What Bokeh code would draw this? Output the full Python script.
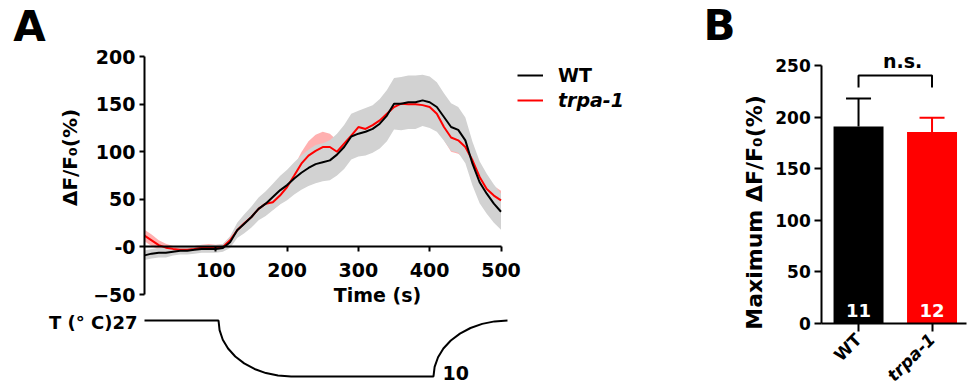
from math import pi
from bokeh.plotting import figure
from bokeh.models import (Range1d, LinearAxis, FixedTicker, Label, Legend, LegendItem,
                          ColumnDataSource, Whisker, TeeHead)
from bokeh.layouts import row
from bokeh.embed import file_html
from bokeh.resources import INLINE

FONT = "DejaVu Sans"

# ---------------- Panel A data ----------------
time_s = list(range(0, 501, 10))
wt_mean = [-8.8, -7, -6, -6, -5, -4, -4, -3, -2, -2,
           -2, -1, 5, 17.5, 24.5, 31.5, 40, 45.5, 52.5, 59.5,
           65, 72, 78, 83, 87, 89, 91, 97, 105, 116,
           119, 121, 124, 129.5, 138, 150.5, 150.5, 152, 152, 154,
           152, 147, 136.5, 126, 123, 112, 87.5, 68, 56, 45.5,
           37]
wt_sem = [5, 5, 5, 5, 4, 4, 4, 4, 4, 4,
          4, 4, 6, 8, 10, 11, 12, 13, 14, 15,
          16, 17, 18, 19, 20, 20, 21, 22, 23, 24,
          24, 25, 25, 26, 27, 27, 28, 28, 28, 27,
          27, 26, 25, 25, 24, 24, 23, 22, 21, 20,
          19]
trpa_mean = [12, 7, 2, -0.7, -2, -3, -3, -2, -0.7, 0,
             -0.7, 0, 7, 17.5, 25, 31.5, 40, 45.5, 47, 54,
             63, 75, 87.5, 96, 101, 105, 105, 100, 108.5, 117,
             126, 124, 128, 133, 140, 147, 150.5, 150, 150, 149,
             147, 140, 126, 115, 112, 105, 91, 73.5, 61, 54,
             49]
trpa_sem = [6, 6, 5, 4, 3, 3, 3, 3, 3, 3,
            3, 3, 4, 5, 6, 7, 7, 8, 8, 9,
            9, 10, 12, 15, 17, 16, 14, 12, 10, 10,
            10, 10, 10, 10, 10, 10, 10, 10, 10, 10,
            11, 12, 14, 15, 14, 12, 11, 10, 10, 10,
            10]
temp_time = [0, 103.8, 105.3, 109.8, 117.2, 127.3, 139.8, 154.3, 170.3, 187.2, 205.6,
             405.3, 406.9, 411.7, 419.2, 429.6, 442.4, 457.2, 473.6, 491.0, 509.1]
temp_c = [27, 27, 24.06, 21.17, 18.5, 16.07, 13.98, 12.28, 11.03, 10.29, 10,
          10, 12.94, 15.83, 18.5, 20.93, 23.02, 24.72, 25.97, 26.73, 27]
y_ticks_a = [-50, 0, 50, 100, 150, 200]
x_ticks_a = [100, 200, 300, 400, 500]

# ---------------- Panel B data ----------------
groups = ["WT", "trpa-1"]
max_mean = [191, 185.5]
max_sem = [27, 14]
n_cells = [11, 12]
bar_colors = ["black", "red"]
y_ticks_b = [0, 50, 100, 150, 200, 250]


def style_axis(ax, size):
    ax.axis_line_width = 2
    ax.axis_line_color = "black"
    ax.major_tick_line_width = 2
    ax.major_tick_line_color = "black"
    ax.major_tick_in = 0
    ax.minor_tick_in = 0
    ax.minor_tick_out = 0
    ax.major_label_text_font = FONT
    ax.major_label_text_font_size = size
    ax.major_label_text_font_style = "bold"
    ax.major_label_text_color = "black"


def bare_fig(w, h, xr, yr):
    p = figure(width=w, height=h, x_range=xr, y_range=yr, output_backend="svg",
               toolbar_location=None, x_axis_location=None, y_axis_location=None,
               min_border=0)
    p.min_border_left = p.min_border_right = p.min_border_top = p.min_border_bottom = 0
    p.outline_line_color = None
    p.grid.visible = False
    p.background_fill_color = "white"
    p.border_fill_color = "white"
    return p


def lab(p, x, y, text, size, align="center", angle=0, color="black", style="bold", yr=None):
    kw = dict(x=x, y=y, text=text, text_font=FONT, text_font_size=size,
              text_font_style=style, text_align=align, text_baseline="middle",
              angle=angle, text_color=color)
    if yr:
        kw["y_range_name"] = yr
    p.add_layout(Label(**kw))


# ================= Panel A =================
pA = bare_fig(700, 389, Range1d(-201.96, 779.8), Range1d(-149.7, 258.9))
pA.extra_y_ranges = {"temp": Range1d(6.05, 124.15)}

trpa_lo = [m - s for m, s in zip(trpa_mean, trpa_sem)]
trpa_hi = [m + s for m, s in zip(trpa_mean, trpa_sem)]
wt_lo = [m - s for m, s in zip(wt_mean, wt_sem)]
wt_hi = [m + s for m, s in zip(wt_mean, wt_sem)]

pA.varea(x=time_s, y1=trpa_lo, y2=trpa_hi, fill_color="#ff8f8f", fill_alpha=0.7)
pA.varea(x=time_s, y1=wt_lo, y2=wt_hi, fill_color="#d2d2d2", fill_alpha=1.0)
r_trpa = pA.line(time_s, trpa_mean, line_color="red", line_width=2)
r_wt = pA.line(time_s, wt_mean, line_color="black", line_width=2)

pA.line(temp_time, temp_c, y_range_name="temp", line_color="black", line_width=2)

ya = LinearAxis(fixed_location=0, bounds=(-50, 200), ticker=FixedTicker(ticks=y_ticks_a),
                major_label_overrides={0: "-0"})
style_axis(ya, "19px")
ya.major_tick_out = 5
ya.major_label_standoff = 4
pA.add_layout(ya, "left")

xa = LinearAxis(fixed_location=0, bounds=(0, 500), ticker=FixedTicker(ticks=x_ticks_a))
style_axis(xa, "19px")
xa.major_tick_out = 5
xa.major_label_standoff = 11
pA.add_layout(xa, "below")

for txt, style, vy in [("WT", "bold", 303), ("trpa-1", "bold italic", 278)]:
    rr = r_wt if txt == "WT" else r_trpa
    leg = Legend(items=[LegendItem(label=txt, renderers=[rr])], location=(517, vy),
                 glyph_width=26, glyph_height=22, label_standoff=15, padding=0, margin=0,
                 spacing=0, border_line_color=None, background_fill_alpha=0,
                 label_text_font=FONT, label_text_font_size="19px",
                 label_text_font_style=style, label_text_color="black")
    pA.add_layout(leg)

lab(pA, -161.3, 231.6, "A", "42px")
lab(pA, -103.8, 94, "ΔF/F₀(%)", "20px", angle=pi / 2)
lab(pA, 326.8, -50.9, "Time (s)", "19px")
lab(pA, -9.8, 26.5, "T (° C)27", "18px", align="right", yr="temp")
lab(pA, 418, 11.2, "10", "19px", align="left", yr="temp")

# ================= Panel B =================
pB = bare_fig(271, 389, Range1d(-1.150, 2.537), Range1d(-63.95, 313.0))
xs = list(range(1, len(groups) + 1))
pB.vbar(x=xs, top=max_mean, width=0.68, fill_color=bar_colors, line_color=None)

for x, m, s, c in zip(xs, max_mean, max_sem, bar_colors):
    src = ColumnDataSource(dict(x=[x], lower=[m], upper=[m + s]))
    w = Whisker(base="x", lower="lower", upper="upper", source=src, line_color=c,
                line_width=2, lower_head=None,
                upper_head=TeeHead(size=25, line_color=c, line_width=2))
    pB.add_layout(w)

bracket_top = 240.3
bracket_drop = 11.6
pB.line([xs[0], xs[0], xs[1], xs[1]],
        [bracket_top - bracket_drop, bracket_top, bracket_top, bracket_top - bracket_drop],
        line_color="black", line_width=2)

yb = LinearAxis(fixed_location=0.5, bounds=(0, 250), ticker=FixedTicker(ticks=y_ticks_b))
style_axis(yb, "17px")
yb.major_tick_out = 7
yb.major_label_standoff = 4
pB.add_layout(yb, "left")

for i, (g, x) in enumerate(zip(groups, xs)):
    xb = LinearAxis(fixed_location=0, bounds=(0.5, 2.47), ticker=FixedTicker(ticks=[x]),
                    major_label_overrides={x: g}, major_label_orientation=pi / 4)
    style_axis(xb, "17px")
    xb.major_label_text_font_style = "bold" if i == 0 else "bold italic"
    xb.major_tick_out = 8
    xb.major_label_standoff = 5
    if i > 0:
        xb.axis_line_alpha = 0
    pB.add_layout(xb, "below")

lab(pB, -0.891, 288.8, "B", "42px")
lab(pB, -0.415, 107.6, "Maximum ΔF/F₀(%)", "22px", angle=pi / 2)
lab(pB, 1.6, 254.8, "n.s.", "19px")
for x, n in zip(xs, n_cells):
    lab(pB, x, 12.6, str(n), "18px", color="white")

layout = row(pA, pB)
open("out.html", "w").write(file_html(layout, INLINE))
